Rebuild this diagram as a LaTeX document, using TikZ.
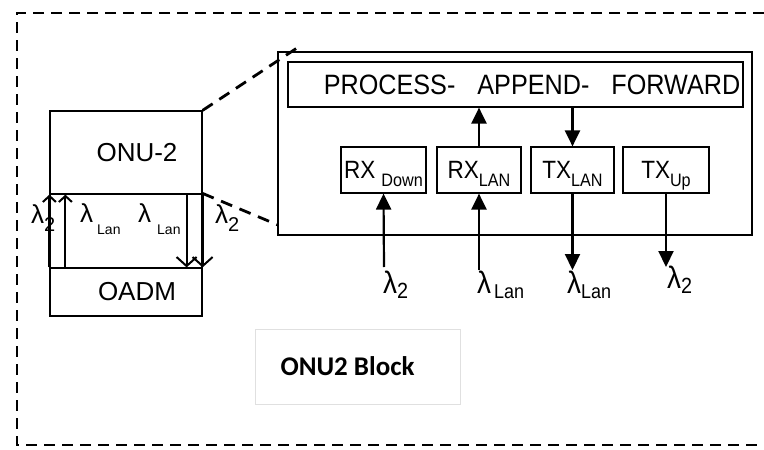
\documentclass[tikz,border=0pt]{standalone}
\usepackage{fontspec}
\setmainfont{Liberation Sans}
\newfontfamily\widefont[FakeStretch=0.9]{Liberation Sans}
\newfontfamily\blockfont{Carlito}
\usetikzlibrary{arrows.meta}
\newcommand{\lsub}[3]{\raisebox{-#1}[0pt][0pt]{\fontsize{#2}{#2}\selectfont #3}}

\begin{document}
\begin{tikzpicture}[x=1pt,y=-1pt,
  box/.style={draw,line width=1.2pt,inner sep=0pt},
  panelbox/.style={box,font=\widefont\fontsize{25}{28}\selectfont},
  frameline/.style={line width=2.6pt,dash pattern=on 11pt off 7pt},
  zoomline/.style={line width=2.8pt,dash pattern=on 12pt off 8pt},
  barbup/.style={line width=2pt,-{Straight Barb[length=6pt,width=13pt]}},
  barbdown/.style={line width=2pt,-{Straight Barb[length=9pt,width=20pt]}},
  solidhead/.style={line width=2.2pt,-{Triangle[length=16pt,width=15pt]}},
  leftlam/.style={anchor=base west,inner sep=0pt,font=\fontsize{26}{28}\selectfont},
  rightlam/.style={anchor=base west,inner sep=0pt,font=\widefont\fontsize{31}{33}\selectfont}]
\useasboundingbox (0,0) rectangle (764,450);
\draw[frameline] (764,13) -- (17,13) -- (17,445) -- (764,445);

\node[box,minimum width=152pt,minimum height=83pt,font=\fontsize{26}{28}\selectfont] (onu) at (126,152.5) {\hspace*{22pt}ONU-2};
\node[box,minimum width=152pt,minimum height=74pt] (band) at (126,231) {};
\node[box,minimum width=152pt,minimum height=48pt,font=\fontsize{26}{28}\selectfont] (oadm) at (126,292) {\hspace*{22pt}OADM};
\draw[barbup] (oadm.north west) -- (onu.south west);
\draw[barbup] ([xshift=16pt]oadm.north west) -- ([xshift=16pt]onu.south west);
\draw[barbdown] ([xshift=-16pt]onu.south east) -- ([xshift=-16pt]oadm.north east);
\draw[barbdown] (onu.south east) -- (oadm.north east);
\node[leftlam] (lamdownl) at (31,223) {λ\lsub{8pt}{20}{2}};
\node[leftlam] (lamlanl) at (80,222) {λ\hspace{4pt}\lsub{12pt}{14}{Lan}};
\node[leftlam] (lamlanr) at (138,222) {λ\hspace{6pt}\lsub{12pt}{14}{Lan}};
\node[leftlam] (lamupr) at (215,223) {λ\lsub{8pt}{20}{2}};

\node[box,minimum width=474pt,minimum height=183pt] (big) at (515,143.5) {};
\coordinate (zoomtop) at (300,46);
\coordinate (zoombot) at (278,225);
\draw[zoomline] (onu.north east) -- (zoomtop);
\draw[zoomline] (band.north east) -- (zoombot);

\node[panelbox,minimum width=455pt,minimum height=45pt,font=\widefont\fontsize{28}{30}\selectfont] (paf) at (515.5,84.5) {\hspace*{33pt}PROCESS-\hspace{22pt}APPEND-\hspace{22pt}FORWARD};
\node[panelbox,minimum width=85pt,minimum height=46pt] (rxdown) at (383.5,170) {RX\hspace{6pt}\lsub{8pt}{18}{Down}};
\node[panelbox,minimum width=84pt,minimum height=46pt] (rxlan) at (479,170) {RX\lsub{8pt}{18}{LAN}};
\node[panelbox,minimum width=83pt,minimum height=46pt] (txlan) at (572.5,170) {TX\lsub{8pt}{18}{LAN}};
\node[panelbox,minimum width=86pt,minimum height=46pt] (txup) at (666,170) {TX\lsub{8pt}{18}{Up}};
\draw[solidhead] (rxlan.north) -- (rxlan.north |- paf.south);
\draw[solidhead] (txlan.north |- paf.south) -- (txlan.north);

\coordinate (indown) at (384,267);
\coordinate (inlan) at (479,270);
\coordinate (outlan) at (572.5,270);
\coordinate (outup) at (666,267);
\draw[solidhead] (indown) -- (rxdown.south);
\draw[solidhead] (inlan) -- (rxlan.south);
\draw[solidhead] (txlan.south) -- (outlan);
\draw[solidhead] (txup.south) -- (outup);
\node[rightlam] (lamdown) at (383,293) {λ\lsub{5pt}{22}{2}};
\node[rightlam] (lamin) at (477,293) {λ\hspace{3pt}\lsub{5pt}{20}{Lan}};
\node[rightlam] (lamout) at (567,293) {λ\lsub{5pt}{20}{Lan}};
\node[rightlam] (lamup) at (667,288) {λ\lsub{5pt}{22}{2}};

\node[draw=black!12,line width=0.8pt,minimum width=205pt,minimum height=75pt,font=\blockfont\bfseries\fontsize{27}{30}\selectfont] (blocklabel) at (357.5,366.5) {ONU2 Block\hspace*{20pt}};
\end{tikzpicture}
\end{document}
